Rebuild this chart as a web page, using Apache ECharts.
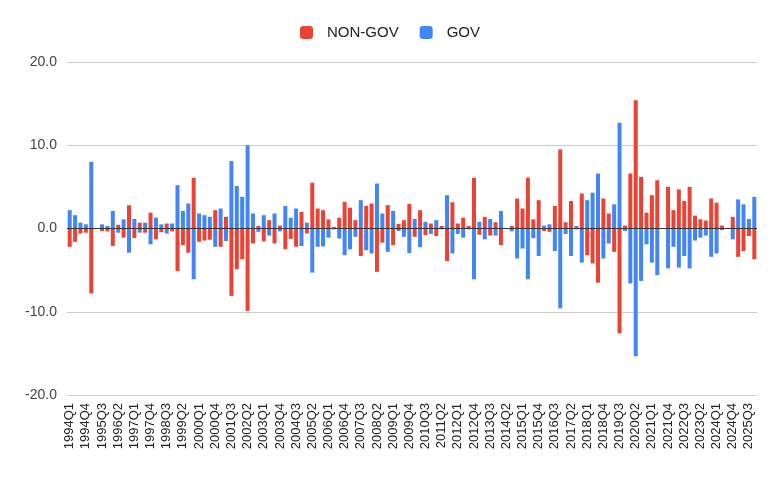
<!DOCTYPE html>
<html>
<head>
<meta charset="utf-8">
<script src="https://cdn.jsdelivr.net/npm/echarts@6/dist/echarts.min.js"></script>
<style>
html, body { margin: 0; padding: 0; background: #fff; }
#main { width: 780px; height: 482px; }
</style>
</head>
<body>
<div id="main"></div>
<script>
// quarters 1994Q1 .. 2025Q4
var quarters = [];
for (var y = 1994; y <= 2025; y++) {
    for (var q = 1; q <= 4; q++) {
        quarters.push(y + 'Q' + q);
    }
}

var nonGov = [
    -2.2, -1.6, -0.6, -0.5, -7.8, 0, -0.3, -0.35, -2.1, 0.45,
    -1.1, 2.8, -1.15, 0.7, -0.5, 1.9, -1.3, -0.45, 0.6, -0.35,
    -5.1, -2.0, -2.9, 6.1, -1.6, -1.45, -1.35, 2.2, -2.2, 1.4,
    -8.1, -4.9, -3.7, -9.9, -1.8, 0.3, -1.55, 1.0, -1.8, 0.35,
    -2.5, -1.25, -2.2, 2.0, -0.6, 5.5, 2.4, 2.2, 1.1, -0.1,
    1.3, 3.2, 2.5, 1.0, -3.3, 2.7, 3.0, -5.2, -1.7, 2.8,
    -2.0, 0.55, 1.0, 2.95, -1.0, 2.2, -0.8, 0.6, -0.9, 0.3,
    -3.9, 3.15, 0.6, 1.3, 0.3, 6.1, -0.75, 1.4, -0.85, 0.75,
    -2.0, 0, 0.3, 3.6, 2.4, 6.1, 1.1, 3.4, -0.3, -0.4,
    2.7, 9.5, 0.75, 3.3, -0.1, 4.2, -3.2, -4.2, -6.5, 3.6,
    1.8, -2.8, -12.6, 0.35, 6.6, 15.4, 6.2, 1.9, 4.0, 5.8,
    0, 5.0, 2.2, 4.7, 3.3, 5.0, 1.55, 1.1, 0.95, 3.6,
    3.1, 0.35, 0, 1.4, -3.4, -2.7, -0.9, -3.7
];

var gov = [
    2.2, 1.6, 0.7, 0.5, 8.0, 0, 0.5, 0.3, 2.1, -0.5,
    1.1, -2.9, 1.15, -0.5, 0.7, -1.9, 1.3, 0.5, -0.6, 0.6,
    5.2, 2.1, 3.0, -6.1, 1.8, 1.6, 1.4, -2.2, 2.4, -1.5,
    8.1, 5.1, 3.8, 10.0, 1.8, -0.4, 1.6, -0.85, 1.8, -0.35,
    2.7, 1.3, 2.4, -2.1, 0.7, -5.3, -2.2, -2.15, -1.1, 0.2,
    -1.2, -3.2, -2.5, -1.0, 3.4, -2.6, -3.0, 5.4, 1.8, -2.8,
    2.1, -0.3, -1.0, -2.95, 1.15, -2.25, 0.8, -0.65, 1.0, -0.1,
    4.0, -3.0, -0.65, -1.1, -0.1, -6.1, 0.8, -1.3, 1.15, -0.85,
    2.1, 0, -0.35, -3.6, -2.4, -6.1, -1.15, -3.3, 0.35, 0.5,
    -2.7, -9.6, -0.65, -3.3, 0.3, -4.1, 3.4, 4.3, 6.6, -3.6,
    -1.8, 2.9, 12.7, -0.3, -6.6, -15.35, -6.3, -1.9, -4.1, -5.6,
    0, -4.8, -2.2, -4.7, -3.3, -4.8, -1.45, -1.1, -0.85, -3.4,
    -3.0, -0.2, 0, -1.3, 3.5, 2.9, 1.15, 3.8
];

var myChart = echarts.init(document.getElementById('main'));

var font = '"Liberation Sans", Arial, sans-serif';

option = {
    animation: false,
    textStyle: { fontFamily: font },
    legend: {
        top: 20,
        left: 'center',
        icon: 'roundRect',
        itemWidth: 13,
        itemHeight: 13,
        itemGap: 21,
        textStyle: {
            fontSize: 15,
            color: '#222',
            padding: [0, 0, 0, 9]
        },
        data: ['NON-GOV', 'GOV']
    },
    grid: {
        left: 67,
        right: 23,
        top: 62,
        bottom: 87
    },
    xAxis: {
        type: 'category',
        data: quarters,
        axisLine: { show: false },
        axisTick: { show: false },
        axisLabel: {
            interval: 2,
            rotate: 90,
            fontSize: 13,
            color: '#222',
            margin: 8
        }
    },
    yAxis: {
        type: 'value',
        min: -20,
        max: 20,
        interval: 10,
        axisLine: { show: false },
        axisTick: { show: false },
        axisLabel: {
            fontSize: 14,
            color: '#444',
            margin: 10,
            formatter: function (v) { return v.toFixed(1); }
        },
        splitLine: { lineStyle: { color: '#cccccc' } }
    },
    series: [{
        name: 'NON-GOV',
        type: 'bar',
        stack: 'total',
        barWidth: 4,
        itemStyle: { color: '#ea4335' },
        data: nonGov
    }, {
        name: 'GOV',
        type: 'bar',
        stack: 'total',
        barWidth: 4,
        itemStyle: { color: '#4285f4' },
        data: gov,
        markLine: {
            silent: true,
            symbol: 'none',
            label: { show: false },
            lineStyle: { color: '#333', width: 1, type: 'solid' },
            data: [{ yAxis: 0 }]
        }
    }]
};

myChart.setOption(option);
</script>
</body>
</html>
